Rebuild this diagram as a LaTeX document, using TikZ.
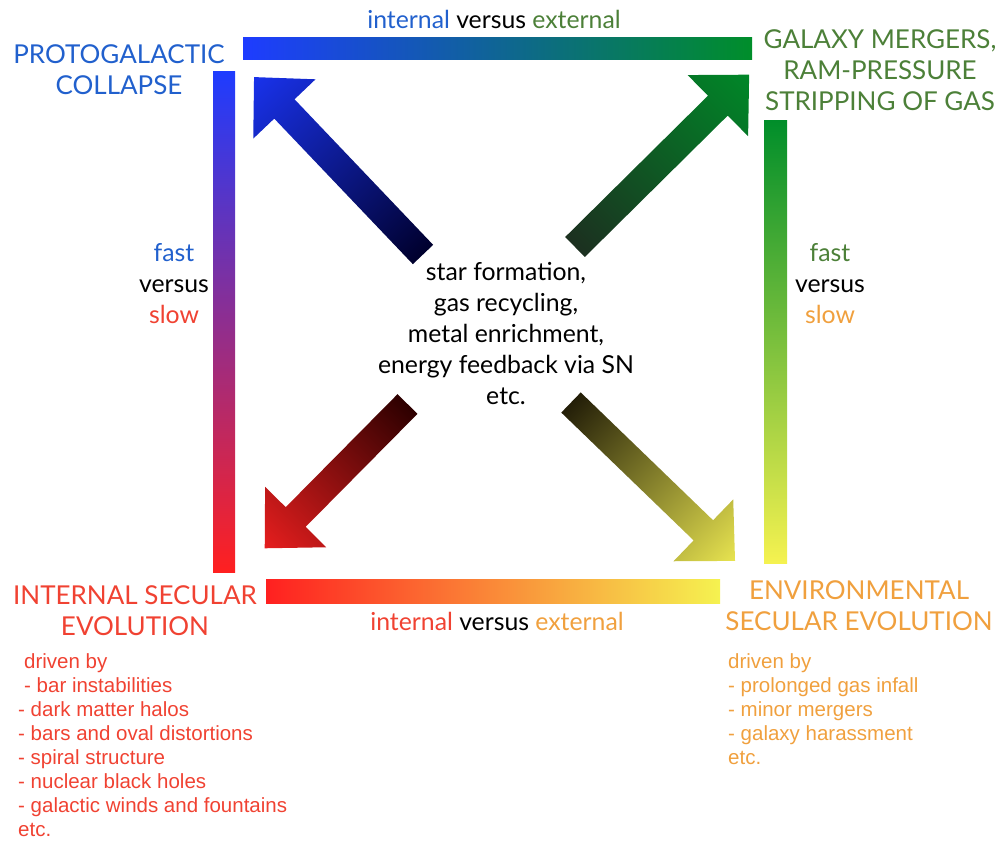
\documentclass[tikz,border=0pt]{standalone}
\usepackage{fontspec}
\setmainfont{Lato}
\newfontfamily\listfont{Liberation Sans}
\usetikzlibrary{positioning}

\definecolor{protoblue}{RGB}{33,96,205}
\definecolor{mergegreen}{RGB}{76,128,56}
\definecolor{intred}{RGB}{240,66,50}
\definecolor{envorange}{RGB}{240,160,62}
\definecolor{barblue}{RGB}{30,60,255}
\definecolor{bargreen}{RGB}{0,142,42}
\definecolor{barpurple}{RGB}{125,40,165}
\definecolor{barred}{RGB}{255,32,32}
\definecolor{barlime}{RGB}{125,190,50}
\definecolor{baryellow}{RGB}{245,242,80}
\definecolor{barorange}{RGB}{255,150,48}
\definecolor{ultail}{RGB}{0,0,45}
\definecolor{ultip}{RGB}{25,50,235}
\definecolor{urtail}{RGB}{28,48,32}
\definecolor{urtip}{RGB}{0,135,40}
\definecolor{lltail}{RGB}{45,0,0}
\definecolor{lltip}{RGB}{230,30,30}
\definecolor{lrtail}{RGB}{35,30,8}
\definecolor{lrtip}{RGB}{232,228,80}

\tikzset{
  heading/.style={align=center, inner sep=0pt, font=\fontsize{26}{31}\selectfont},
  versus/.style={align=center, inner sep=0pt, font=\fontsize{24.8}{31}\selectfont},
  drivenlist/.style={align=left, anchor=north west, inner sep=0pt,
    font=\listfont\fontsize{20.5}{24}\selectfont},
}

\newcommand{\blockarrow}[5]{%
  \begin{scope}[transform canvas={shift={#1},rotate=#2}]
    \shade[left color=#4, right color=#5] (0,-14) -- ({#3-44},-14) -- ({#3-44},-43)
      -- (#3,0) -- ({#3-44},43) -- ({#3-44},14) -- (0,14) -- cycle;
  \end{scope}}

\begin{document}
\begin{tikzpicture}[x=1pt,y=-1pt]
  \useasboundingbox (0,0) rectangle (998,841);

  \shade[left color=barblue, right color=bargreen] (243,37) rectangle (752,59);
  \shade[top color=barblue, middle color=barpurple, bottom color=barred] (213,71) rectangle (235,572);
  \shade[top color=bargreen, middle color=barlime, bottom color=baryellow] (764,120) rectangle (787,563);
  \shade[left color=barred, middle color=barorange, right color=baryellow] (266,579) rectangle (720,603);

  \blockarrow{(423,254.5)}{133.6}{245}{ultail}{ultip}
  \blockarrow{(575,247)}{44.7}{245}{urtail}{urtip}
  \blockarrow{(407.5,404)}{225.3}{203}{lltail}{lltip}
  \blockarrow{(571,402.5)}{-44}{228}{lrtail}{lrtip}

  \node[versus] (topvs) at (494,19) {{\color{protoblue}internal} versus {\color{mergegreen}external}};
  \node[heading, text=protoblue] (proto) at (119,70) {PROTOGALACTIC\\COLLAPSE};
  \node[heading, text=mergegreen] (merge) at (880,70) {GALAXY MERGERS,\\RAM-PRESSURE\\STRIPPING OF GAS};
  \node[versus] (leftvs) at (174,284) {{\color{protoblue}fast}\\versus\\{\color{intred}slow}};
  \node[versus] (rightvs) at (830,284) {{\color{mergegreen}fast}\\versus\\{\color{envorange}slow}};
  \node[versus] (centre) at (506,334) {star formation,\\gas recycling,\\metal enrichment,\\energy feedback via SN\\etc.};
  \node[heading, text=intred] (intsec) at (135,611) {INTERNAL SECULAR\\EVOLUTION};
  \node[versus] (bottomvs) at (497,621) {{\color{intred}internal} versus {\color{envorange}external}};
  \node[heading, text=envorange] (envsec) at (859,606) {ENVIRONMENTAL\\SECULAR EVOLUTION};

  \node[drivenlist, text=intred] (intlist) at (18,653) {\hspace*{6pt}driven by\\\hspace*{6pt}- bar instabilities\\- dark matter halos\\- bars and oval distortions\\- spiral structure\\- nuclear black holes\\- galactic winds and fountains\\etc.};
  \node[drivenlist, text=envorange] (envlist) at (728,653) {driven by\\- prolonged gas infall\\- minor mergers\\- galaxy harassment\\etc.};
\end{tikzpicture}
\end{document}
